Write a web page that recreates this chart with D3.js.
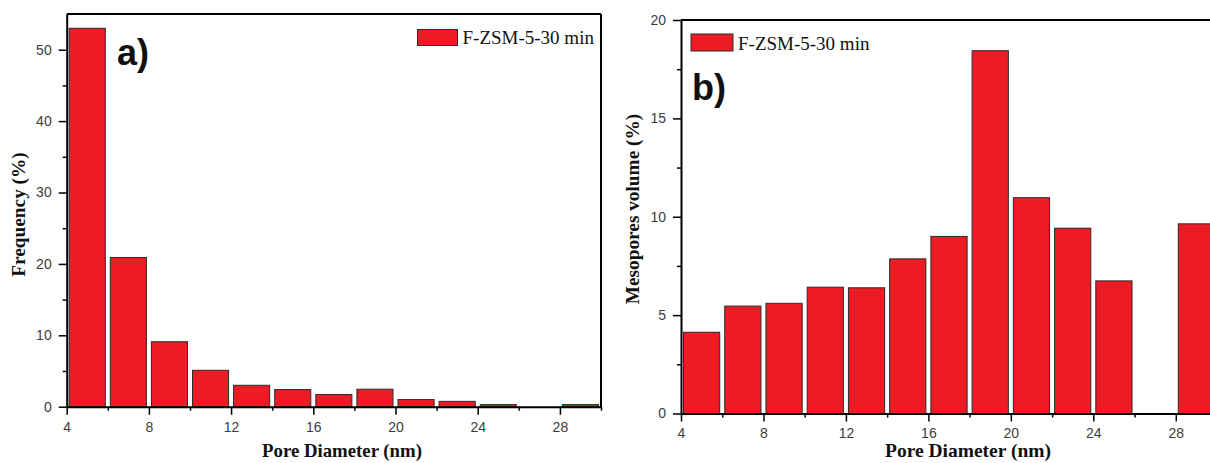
<!DOCTYPE html>
<html>
<head>
<meta charset="utf-8">
<script src="https://cdn.jsdelivr.net/npm/d3@7"></script>
<style>
  html, body { margin: 0; padding: 0; background: #fff; }
  svg { display: block; }
  .tick text { font-family: "Liberation Sans", Arial, sans-serif; font-size: 14px; fill: #3c3c3c; }
</style>
</head>
<body>
<svg id="chart" width="1210" height="463"></svg>
<script>
// ---- data ----
const binStarts = [4, 6, 8, 10, 12, 14, 16, 18, 20, 22, 24, 26, 28];
const binWidth = 2;
const frequency = [53.0, 20.9, 9.1, 5.1, 3.0, 2.4, 1.7, 2.45, 1.0, 0.75, 0.3, 0, 0.3];
const mesoVolume = [4.13, 5.46, 5.6, 6.42, 6.39, 7.86, 9.0, 18.44, 10.97, 9.42, 6.74, 0, 9.64];
const xMajorTicks = [4, 8, 12, 16, 20, 24, 28];
const xMinorTicks = [6, 10, 14, 18, 22, 26, 30];
const yMajorA = [0, 10, 20, 30, 40, 50];
const yMinorA = [5, 15, 25, 35, 45];
const yMajorB = [0, 5, 10, 15, 20];
const yMinorB = [2.5, 7.5, 12.5, 17.5];
const legendLabel = "F-ZSM-5-30 min";
const xTitle = "Pore Diameter (nm)";
const yTitleA = "Frequency (%)";
const yTitleB = "Mesopores volume (%)";

const svg = d3.select("#chart");
const RED = "#ED1C24";

function panel(cfg) {
  const g = svg.append("g");
  const x = d3.scaleLinear().domain([4, 30]).range([cfg.left, cfg.right]);
  const y = d3.scaleLinear().domain(cfg.yDomain).range([cfg.bottom, cfg.top]);

  // bars
  g.selectAll("rect.bar").data(binStarts.map((s, i) => ({s, v: cfg.values[i]})))
    .enter().append("rect").attr("class", "bar")
    .attr("x", d => x(d.s) + 2.5)
    .attr("width", d => x(d.s + binWidth) - x(d.s) - 5)
    .attr("y", d => y(d.v))
    .attr("height", d => Math.max(0, y(0) - y(d.v)))
    .attr("fill", RED)
    .attr("stroke", "#2a2a2a")
    .attr("stroke-width", 1)
    .attr("display", d => d.v > 0 ? null : "none");

  // minor ticks
  const xMinor = g.append("g").attr("transform", `translate(0,${cfg.bottom})`)
    .call(d3.axisBottom(x).tickValues(xMinorTicks).tickSize(4).tickFormat(""));
  const yMinor = g.append("g").attr("transform", `translate(${cfg.left},0)`)
    .call(d3.axisLeft(y).tickValues(cfg.yMinor).tickSize(4).tickFormat(""));
  [xMinor, yMinor].forEach(a => { a.select(".domain").remove(); a.selectAll("line").attr("stroke", "#000").attr("stroke-width", 1.5); });

  // major axes
  const xAxis = g.append("g").attr("transform", `translate(0,${cfg.bottom})`)
    .call(d3.axisBottom(x).tickValues(xMajorTicks).tickSize(8).tickSizeOuter(0).tickPadding(7).tickFormat(d3.format("d")));
  const yAxis = g.append("g").attr("transform", `translate(${cfg.left},0)`)
    .call(d3.axisLeft(y).tickValues(cfg.yMajor).tickSize(8).tickSizeOuter(0).tickPadding(7).tickFormat(d3.format("d")));
  [xAxis, yAxis].forEach(a => {
    a.select(".domain").attr("stroke", "#000").attr("stroke-width", 2);
    a.selectAll("line").attr("stroke", "#000").attr("stroke-width", 1.5);
  });

  // frame
  g.append("line").attr("x1", cfg.left).attr("x2", cfg.right).attr("y1", cfg.top).attr("y2", cfg.top)
    .attr("stroke", "#000").attr("stroke-width", 2);
  g.append("line").attr("x1", cfg.right).attr("x2", cfg.right).attr("y1", cfg.top).attr("y2", cfg.bottom)
    .attr("stroke", "#000").attr("stroke-width", 2);

  // legend
  g.append("rect").attr("x", cfg.legX).attr("y", cfg.legY).attr("width", cfg.legW).attr("height", cfg.legH)
    .attr("fill", RED).attr("stroke", "#2a2a2a").attr("stroke-width", 1);
  g.append("text").attr("x", cfg.legX + cfg.legW + 5).attr("y", cfg.legY + cfg.legH - 1.5)
    .attr("font-family", "'Liberation Serif', 'Times New Roman', serif").attr("font-size", 19)
    .attr("fill", "#111").text(legendLabel);

  // panel label
  g.append("text").attr("x", cfg.labX).attr("y", cfg.labY)
    .attr("font-family", "'Liberation Sans', Arial, sans-serif").attr("font-weight", "bold")
    .attr("font-size", 36).attr("fill", "#111").text(cfg.label);

  // titles
  g.append("text").attr("x", cfg.xtX).attr("y", cfg.xtY).attr("text-anchor", "middle")
    .attr("font-family", "'Liberation Serif', 'Times New Roman', serif").attr("font-weight", "bold")
    .attr("font-size", cfg.xtSize).attr("fill", "#111").text(xTitle);
  g.append("text").attr("transform", `translate(${cfg.ytX},${cfg.ytY}) rotate(-90)`).attr("text-anchor", "middle")
    .attr("font-family", "'Liberation Serif', 'Times New Roman', serif").attr("font-weight", "bold")
    .attr("font-size", 19.3).attr("fill", "#111").text(cfg.yTitle);
}

panel({
  left: 66.7, right: 601, top: 14, bottom: 406.7, yDomain: [0, 55],
  values: frequency, yMajor: yMajorA, yMinor: yMinorA,
  legX: 417.5, legY: 29.5, legW: 40, legH: 16,
  label: "a)", labX: 117, labY: 65,
  xtX: 342, xtY: 457, xtSize: 18.8,
  ytX: 24.5, ytY: 214.5, yTitle: yTitleA
});

panel({
  left: 681, right: 1217, top: 20, bottom: 413.5, yDomain: [0, 20],
  values: mesoVolume, yMajor: yMajorB, yMinor: yMinorB,
  legX: 691, legY: 34, legW: 42, legH: 17,
  label: "b)", labX: 692, labY: 100,
  xtX: 968, xtY: 457, xtSize: 19.5,
  ytX: 639, ytY: 209, yTitle: yTitleB
});
</script>
</body>
</html>
